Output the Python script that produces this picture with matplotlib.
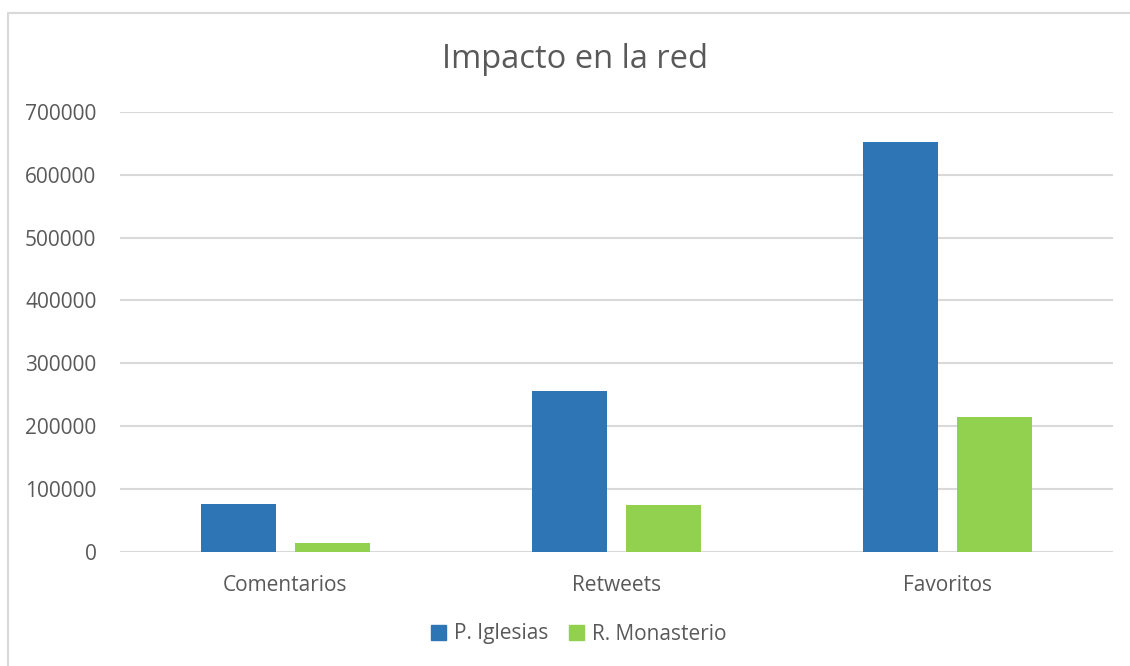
import matplotlib.pyplot as plt
import numpy as np
from matplotlib.patches import Rectangle, Patch

plt.rcParams['font.family'] = ['Open Sans', 'DejaVu Sans']

categories = ['Comentarios', 'Retweets', 'Favoritos']
iglesias = [75300, 256000, 651500]
monasterio = [13200, 74200, 213900]
series_names = ['P. Iglesias', 'R. Monasterio']
yticks = [0, 100000, 200000, 300000, 400000, 500000, 600000, 700000]

blue = '#2E75B6'
green = '#92D050'
txt = '#595959'
grid = '#D9D9D9'

fig = plt.figure(figsize=(11.3, 6.66), dpi=100)
ax = fig.add_axes([120/1130, 114.4/666, 993/1130, 439.6/666])

x = np.arange(len(categories))
w = 0.224
off = 0.142
ax.bar(x - off, iglesias, w, color=blue, zorder=3)
ax.bar(x + off, monasterio, w, color=green, zorder=3)

ax.set_xlim(-0.5, 2.5)
ax.set_ylim(0, 700000)
ax.set_yticks(yticks)
ax.set_yticklabels([str(t) for t in yticks])
ax.set_xticks(x)
ax.set_xticklabels(categories)
ax.tick_params(axis='both', length=0, labelcolor=txt, labelsize=15)
ax.tick_params(axis='y', pad=17)
ax.tick_params(axis='x', pad=17)
ax.grid(axis='y', color=grid, linewidth=1.5, zorder=0)
for s in ax.spines.values():
    s.set_visible(False)

fig.text(574.5/1130, 1 - 59/666, 'Impacto en la red', ha='center', va='center',
         fontsize=23.5, color=txt)

handles = [Patch(color=blue), Patch(color=green)]
fig.legend(handles, series_names, loc='center', bbox_to_anchor=(579/1130, 1 - 634/666),
           ncol=2, frameon=False, fontsize=15, labelcolor=txt,
           handlelength=0.7, handleheight=0.7, handletextpad=0.4, columnspacing=1.0)

fig.patches.append(Rectangle((7.5/1130, -0.1), 1.2, 1.1 - 13.5/666, transform=fig.transFigure,
                             fill=False, edgecolor=grid, linewidth=1.5))

fig.savefig('out.png', dpi=100)
